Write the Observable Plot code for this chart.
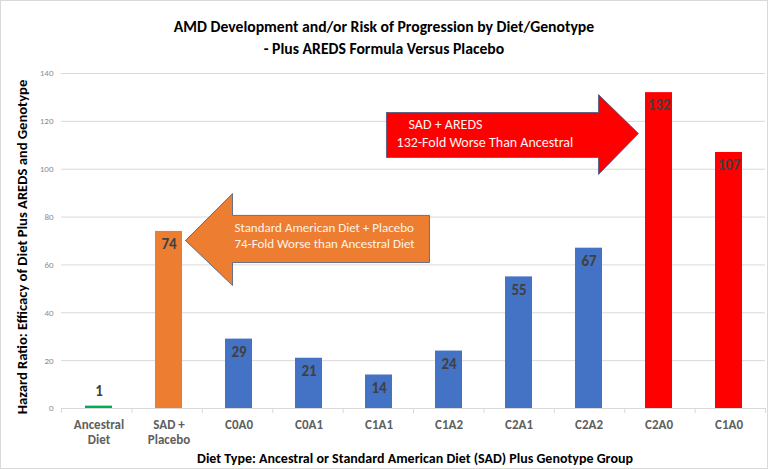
<!DOCTYPE html>
<html>
<head>
<meta charset="utf-8">
<script src="https://cdn.jsdelivr.net/npm/d3@7"></script>
<script src="https://cdn.jsdelivr.net/npm/@observablehq/plot@0.6"></script>
<style>
  html, body { margin: 0; padding: 0; background: #fff; }
  #wrap { position: relative; width: 768px; height: 469px; overflow: hidden; font-family: Carlito, "Liberation Sans Narrow", "Open Sans", sans-serif; }
  #wrap svg { position: absolute; left: 0; top: 0; }
  .t { position: absolute; color: #000; font-weight: bold; white-space: nowrap; }
  #frame { position: absolute; left: 0; top: 0; width: 766px; height: 467px; border: 1px solid #d9d9d9; pointer-events: none; }
</style>
</head>
<body>
<div id="wrap"></div>
<script>
// ---- data ----
const categories = ["Ancestral\nDiet", "SAD +\nPlacebo", "C0A0", "C0A1", "C1A1", "C1A2", "C2A1", "C2A2", "C2A0", "C1A0"];
const values = [1, 74, 29, 21, 14, 24, 55, 67, 132, 107];
const groups = ["Ancestral", "Placebo", "Genotype", "Genotype", "Genotype", "Genotype", "Genotype", "Genotype", "AREDS", "AREDS"];
const groupNames = ["Ancestral", "Placebo", "Genotype", "AREDS"];
const groupColors = ["#00B050", "#ED7D31", "#4472C4", "#FF0000"];
const yTicks = [0, 20, 40, 60, 80, 100, 120, 140];

// annotation arrows, in category-position units (0..10) and hazard-ratio units
const orangeArrowX = [1.761, 2.429, 2.429, 5.227, 5.227, 2.429, 2.429, 1.761];
const orangeArrowY = [70.2, 89.8, 80.7, 80.7, 61.0, 61.0, 51.4, 70.2];
const redArrowX = [4.616, 7.628, 7.628, 8.196, 7.628, 7.628, 4.616, 4.616];
const redArrowY = [123.7, 123.7, 131.2, 114.9, 97.8, 104.9, 104.9, 123.7];
const orangeText = ["Standard American Diet + Placebo", "74-Fold Worse than Ancestral Diet"];
const orangeTextX = [2.457, 2.457];
const orangeTextY = [75.6, 68.9];
const redText = ["SAD + AREDS", "132-Fold Worse Than Ancestral"];
const redTextX = [4.929, 4.759];
const redTextY = [118.7, 111.2];

const data = categories.map((c, i) => ({cat: c, value: values[i], group: groups[i]}));
const W = 768, H = 469;
const M = {top: 73, bottom: 61, left: 61, right: 3};
const FONT = 'Carlito, "Liberation Sans Narrow", "Open Sans", sans-serif';

const chart = Plot.plot({
  width: W, height: H,
  marginTop: M.top, marginBottom: M.bottom, marginLeft: M.left, marginRight: M.right,
  style: {fontFamily: FONT, background: "transparent"},
  x: {domain: categories, paddingInner: 0.615, paddingOuter: 0.3075, label: null},
  y: {domain: [0, 140], label: null},
  color: {domain: groupNames, range: groupColors},
  marks: [
    Plot.gridY(yTicks, {stroke: "#d9d9d9", strokeOpacity: 1}),
    Plot.axisY(yTicks, {tickSize: 0, tickPadding: 8, fontSize: 9, fill: "#8c8c8c", label: null}),
    Plot.barY(data, {x: "cat", y: "value", fill: "group"}),
    Plot.ruleY([0], {stroke: "#d9d9d9"}),
    Plot.axisX({tickSize: 0, tickPadding: 10, fontSize: 13, fontWeight: "bold", fill: "#5f5f5f", lineHeight: 1.15, label: null}),
    Plot.text(data.filter(d => d.value > 5), {x: "cat", y: "value", text: d => String(d.value), dy: 13, fontSize: 15, fontWeight: "bold", fill: "#404040"}),
    Plot.text(data.filter(d => d.value <= 5), {x: "cat", y: "value", text: d => String(d.value), dy: -15, fontSize: 15, fontWeight: "bold", fill: "#404040"})
  ]
});

// overlay in category-position units for boundary ticks and annotation arrows
const bounds = d3.range(categories.length + 1);
const overlay = Plot.plot({
  width: W, height: H,
  marginTop: M.top, marginBottom: M.bottom, marginLeft: M.left, marginRight: M.right,
  style: {fontFamily: FONT, background: "transparent"},
  x: {type: "linear", domain: [0, categories.length], axis: null},
  y: {type: "linear", domain: [0, 140], axis: null},
  marks: [
    Plot.ruleX(bounds, {x: d => d, y1: 0, y2: -2.1, stroke: "#d9d9d9", strokeWidth: 1}),
    Plot.line(orangeArrowX.map((x, i) => ({x, y: orangeArrowY[i]})), {x: "x", y: "y", fill: "#ED7D31", stroke: "#3f5a88", strokeWidth: 0.8, curve: "linear"}),
    Plot.line(redArrowX.map((x, i) => ({x, y: redArrowY[i]})), {x: "x", y: "y", fill: "#FF0000", stroke: "#3f5a88", strokeWidth: 0.8, curve: "linear"}),
    Plot.text(orangeText, {x: (d, i) => orangeTextX[i], y: (d, i) => orangeTextY[i], text: d => d, textAnchor: "start", fill: "#fdf3ea", fontSize: 13}),
    Plot.text(redText, {x: (d, i) => redTextX[i], y: (d, i) => redTextY[i], text: d => d, textAnchor: "start", fill: "#fff2f2", fontSize: 14})
  ]
});

const wrap = document.getElementById("wrap");
wrap.appendChild(chart);
wrap.appendChild(overlay);

function addText(txt, css) {
  const d = document.createElement("div");
  d.className = "t";
  d.textContent = txt;
  Object.assign(d.style, css);
  wrap.appendChild(d);
  return d;
}
addText("AMD Development and/or Risk of Progression by Diet/Genotype", {left: "0", width: "768px", textAlign: "center", top: "17px", fontSize: "15.7px"});
addText("- Plus AREDS Formula Versus Placebo", {left: "0", width: "768px", textAlign: "center", top: "39px", fontSize: "15.7px"});
addText("Diet Type: Ancestral or Standard American Diet (SAD) Plus Genotype Group", {left: "0", width: "830px", textAlign: "center", top: "450px", fontSize: "14px"});
addText("Hazard Ratio: Efficacy of Diet Plus AREDS and Genotype", {left: "22px", top: "247px", fontSize: "14.6px", transform: "translate(-50%,-50%) rotate(-90deg)"});
const f = document.createElement("div"); f.id = "frame"; wrap.appendChild(f);
</script>
</body>
</html>
